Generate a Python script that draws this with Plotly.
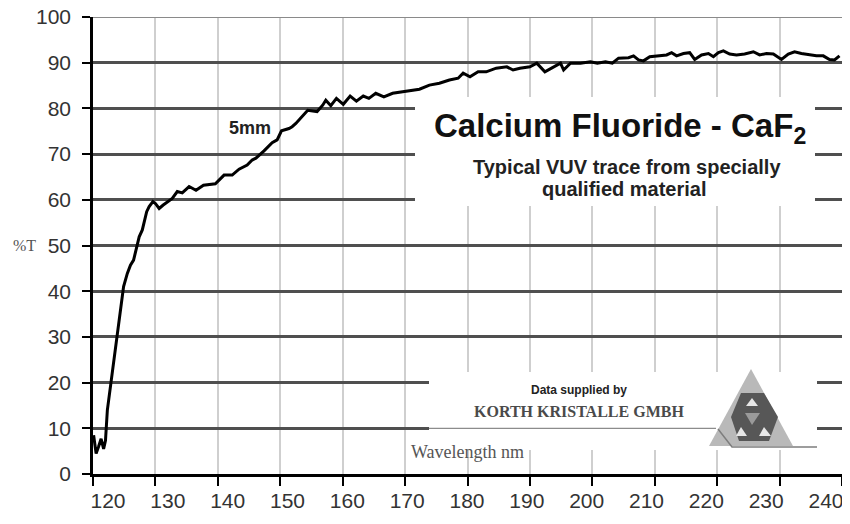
import plotly.graph_objects as go

# ---------------- data ----------------
wavelength_nm = [
    120.1, 120.5, 120.9, 121.3, 121.7, 122.0, 122.3, 122.8, 123.3, 123.9,
    124.4, 124.9, 125.5, 126.0, 126.5, 126.8, 127.4, 127.9, 128.2, 128.6,
    129.0, 129.6, 130.0, 130.6, 131.2, 131.9, 132.7, 133.5, 134.3, 135.4,
    136.5, 137.7, 138.6, 139.6, 141.0, 142.3, 143.4, 144.7, 145.5, 146.1,
    147.4, 148.7, 149.5, 150.2, 151.4, 151.9, 152.5, 153.4, 154.4, 155.9,
    156.8, 157.3, 158.1, 159.0, 160.1, 161.2, 162.2, 163.3, 164.2, 165.3,
    166.6, 168.0, 169.6, 170.9, 172.3, 173.9, 175.5, 177.1, 178.5, 179.3,
    180.4, 181.7, 183.0, 184.6, 186.3, 187.3, 188.4, 190.0, 191.1, 192.4,
    193.8, 194.9, 195.4, 196.5, 198.1, 199.7, 200.8, 202.1, 203.2, 204.2,
    205.8, 206.6, 207.4, 208.2, 209.2, 210.6, 211.9, 212.7, 213.5, 214.6,
    215.6, 216.4, 217.5, 218.6, 219.4, 220.2, 221.0, 222.0, 223.1, 224.4,
    225.8, 226.8, 227.9, 229.0, 230.3, 231.4, 232.4, 233.5, 234.8, 235.9,
    237.0, 238.0, 238.8, 239.6,
]
transmission_pct = [
    8.5, 4.5, 6.0, 7.7, 5.5, 7.3, 14.0, 19.1, 24.9, 30.8,
    36.6, 41.0, 43.9, 45.7, 46.8, 48.3, 51.9, 53.4, 54.9, 57.4,
    58.5, 59.6, 59.2, 58.1, 58.8, 59.6, 60.3, 61.8, 61.5, 62.9,
    62.1, 63.2, 63.3, 63.5, 65.4, 65.4, 66.7, 67.6, 68.7, 69.1,
    70.7, 72.5, 73.1, 75.1, 75.6, 76.0, 76.7, 78.0, 79.6, 79.3,
    80.7, 81.8, 80.6, 82.2, 80.9, 82.7, 81.6, 82.7, 82.2, 83.3,
    82.5, 83.3, 83.6, 84.0, 84.2, 85.1, 85.5, 86.2, 86.6, 87.7,
    86.9, 88.0, 88.0, 88.8, 89.1, 88.4, 88.8, 89.1, 89.9, 88.0,
    89.1, 89.9, 88.4, 89.9, 89.9, 90.2, 89.9, 90.2, 89.9, 91.0,
    91.1, 91.5, 90.6, 90.4, 91.3, 91.5, 91.7, 92.2, 91.5, 92.0,
    92.2, 90.7, 91.7, 92.0, 91.3, 92.2, 92.6, 91.9, 91.7, 91.9,
    92.4, 91.7, 92.0, 91.9, 90.7, 91.9, 92.4, 92.0, 91.7, 91.5,
    91.5, 90.7, 90.6, 91.5,
]
x_ticks = [120, 130, 140, 150, 160, 170, 180, 190, 200, 210, 220, 230, 240]
y_ticks = [0, 10, 20, 30, 40, 50, 60, 70, 80, 90, 100]

title_text = "Calcium Fluoride - CaF<sub>2</sub>"
subtitle_line1 = "Typical VUV trace from specially"
subtitle_line2 = "qualified material"
thickness_label = "5mm"
supplied_text = "Data supplied by"
company_text = "KORTH KRISTALLE GMBH"
x_title = "Wavelength nm"
y_title = "%T"

# ---------------- layout geometry ----------------
# the page body adds an 8px offset, so the figure is 8px smaller and
# all target positions below are given in window pixels
OFF = 8
W, H = 850 - OFF, 524 - OFF
PL, PR, PT, PB = 93, 842, 17, 474          # plot area in window pixels
ML, MT = PL - OFF, PT - OFF
MR, MB = W - (PR - OFF), H - (PB - OFF)
XMIN, XMAX = 120, 240
YMIN, YMAX = 0, 100
PW = PR - PL
PH = PB - PT
# printed wavelength labels sit on a slightly tighter pitch than the ticks
LAB_L, LAB_R = 108, 826
_k = (LAB_R - LAB_L) / (XMAX - XMIN)
LAB_RANGE = [XMIN - (LAB_L - PL) / _k, XMIN - (LAB_L - PL) / _k + PW / _k]


def px2x(px):
    return XMIN + (px - PL) / PW * (XMAX - XMIN)


def py2y(py):
    return YMIN + (PB - py) / PH * (YMAX - YMIN)


def path(points, close=True):
    s = "M " + " L ".join(f"{px2x(a):.4f},{py2y(b):.4f}" for a, b in points)
    return s + (" Z" if close else "")


fig = go.Figure()
fig.add_trace(go.Scatter(
    x=wavelength_nm, y=transmission_pct, mode="lines",
    line=dict(color="#000000", width=3), showlegend=False, hoverinfo="skip",
))
fig.add_trace(go.Scatter(
    x=[x_ticks[0]], y=[0], xaxis="x2", yaxis="y", mode="markers",
    marker=dict(size=1, opacity=0), showlegend=False, hoverinfo="skip",
))

shapes = [
    dict(type="line", xref="x", yref="y", layer="between",
         x0=XMIN, x1=XMAX, y0=YMAX, y1=YMAX,
         line=dict(color="#8a8a8a", width=2)),
    dict(type="rect", xref="x", yref="y", layer="between",
         x0=px2x(415), x1=px2x(815), y0=py2y(206), y1=py2y(97),
         fillcolor="white", line=dict(width=0)),
    dict(type="rect", xref="x", yref="y", layer="between",
         x0=px2x(429), x1=px2x(817), y0=py2y(450), y1=py2y(372),
         fillcolor="white", line=dict(width=0)),
    dict(type="line", xref="x", yref="y", layer="between",
         x0=px2x(429), x1=px2x(716), y0=10, y1=10,
         line=dict(color="#8c8c8c", width=1.2)),
    # logo
    dict(type="path", xref="x", yref="y", layer="above",
         path=path([(751, 369), (709, 446), (793, 446)]),
         fillcolor="#b9b9b9", line=dict(width=0)),
    dict(type="path", xref="x", yref="y", layer="above",
         path=path([(718, 429), (732, 447), (817, 447)], close=False),
         line=dict(color="#7d7d7d", width=1.5)),
    dict(type="path", xref="x", yref="y", layer="above",
         path=path([(741, 393), (764, 393), (778, 417), (769, 441),
                    (739, 441), (731, 417)]),
         fillcolor="#575757", line=dict(width=0)),
    dict(type="path", xref="x", yref="y", layer="above",
         path=path([(752, 398), (746, 406), (758, 406)]),
         fillcolor="#e6e6e6", line=dict(width=0)),
    dict(type="path", xref="x", yref="y", layer="above",
         path=path([(741, 427), (736, 436), (747, 436)]),
         fillcolor="#e6e6e6", line=dict(width=0)),
    dict(type="path", xref="x", yref="y", layer="above",
         path=path([(764, 427), (759, 436), (771, 436)]),
         fillcolor="#e6e6e6", line=dict(width=0)),
    dict(type="path", xref="x", yref="y", layer="above",
         path=path([(745, 413), (760, 413), (752, 425)]),
         fillcolor="#9a9a9a", line=dict(width=0)),
]

SANS = "Liberation Sans, Arial"
SERIF = "Liberation Serif, Times New Roman"
annotations = [
    dict(text="<b>" + title_text + "</b>", x=px2x(620), y=py2y(128), xref="x", yref="y",
         showarrow=False, font=dict(family=SANS, size=33, color="#111111")),
    dict(text="<b>" + subtitle_line1 + "</b>", x=px2x(627), y=py2y(167), xref="x", yref="y",
         showarrow=False, font=dict(family=SANS, size=20, color="#222222")),
    dict(text="<b>" + subtitle_line2 + "</b>", x=px2x(624), y=py2y(189), xref="x", yref="y",
         showarrow=False, font=dict(family=SANS, size=20, color="#222222")),
    dict(text="<b>" + thickness_label + "</b>", x=px2x(250), y=py2y(128), xref="x", yref="y",
         showarrow=False, font=dict(family=SANS, size=18, color="#222222")),
    dict(text="<b>" + supplied_text + "</b>", x=px2x(579), y=py2y(390), xref="x", yref="y",
         showarrow=False, font=dict(family=SANS, size=12, color="#222222")),
    dict(text="<b>" + company_text + "</b>", x=px2x(579), y=py2y(411), xref="x", yref="y",
         showarrow=False, font=dict(family=SERIF, size=16, color="#4a4a4a")),
    dict(text=x_title, x=px2x(467), y=py2y(452), xref="x", yref="y",
         showarrow=False, font=dict(family=SERIF, size=18, color="#555555")),
    dict(text=y_title, x=(24 - PL) / PW, y=(PB - 245) / PH, xref="paper", yref="paper",
         xanchor="center", yanchor="middle", showarrow=False,
         font=dict(family=SERIF, size=16, color="#555555")),
]

tickfont = dict(family=SANS, size=21, color="#333333")

fig.update_layout(
    width=W, height=H,
    margin=dict(l=ML, r=MR, t=MT, b=MB, pad=0),
    paper_bgcolor="white", plot_bgcolor="white",
    shapes=shapes, annotations=annotations,
    showlegend=False,
    xaxis=dict(
        range=[XMIN, XMAX], tickmode="array", tickvals=x_ticks,
        showticklabels=False,
        showgrid=True, gridcolor="#cfcfcf", gridwidth=1.5,
        showline=True, linecolor="#000000", linewidth=2.5,
        ticks="outside", ticklen=9, tickwidth=2, tickcolor="#000000",
        zeroline=False, fixedrange=True, automargin=False,
    ),
    xaxis2=dict(
        range=LAB_RANGE, overlaying="x", anchor="y", side="bottom",
        tickmode="array", tickvals=x_ticks, ticktext=[str(v) for v in x_ticks],
        showgrid=False, showline=False, zeroline=False,
        ticks="outside", ticklen=8, tickcolor="rgba(0,0,0,0)",
        tickfont=tickfont, fixedrange=True, automargin=False,
        ticklabeloverflow="allow",
    ),
    yaxis=dict(
        range=[YMIN, YMAX], tickmode="array", tickvals=y_ticks,
        ticktext=[str(v) for v in y_ticks],
        showgrid=True, gridcolor="#4f4f4f", gridwidth=2.5,
        showline=True, linecolor="#000000", linewidth=2.5,
        ticks="outside", ticklen=8, tickwidth=2, tickcolor="#000000",
        ticklabelstandoff=7, ticklabeloverflow="allow",
        tickfont=tickfont,
        zeroline=False, fixedrange=True, automargin=False,
    ),
)

fig.write_html("out.html")
